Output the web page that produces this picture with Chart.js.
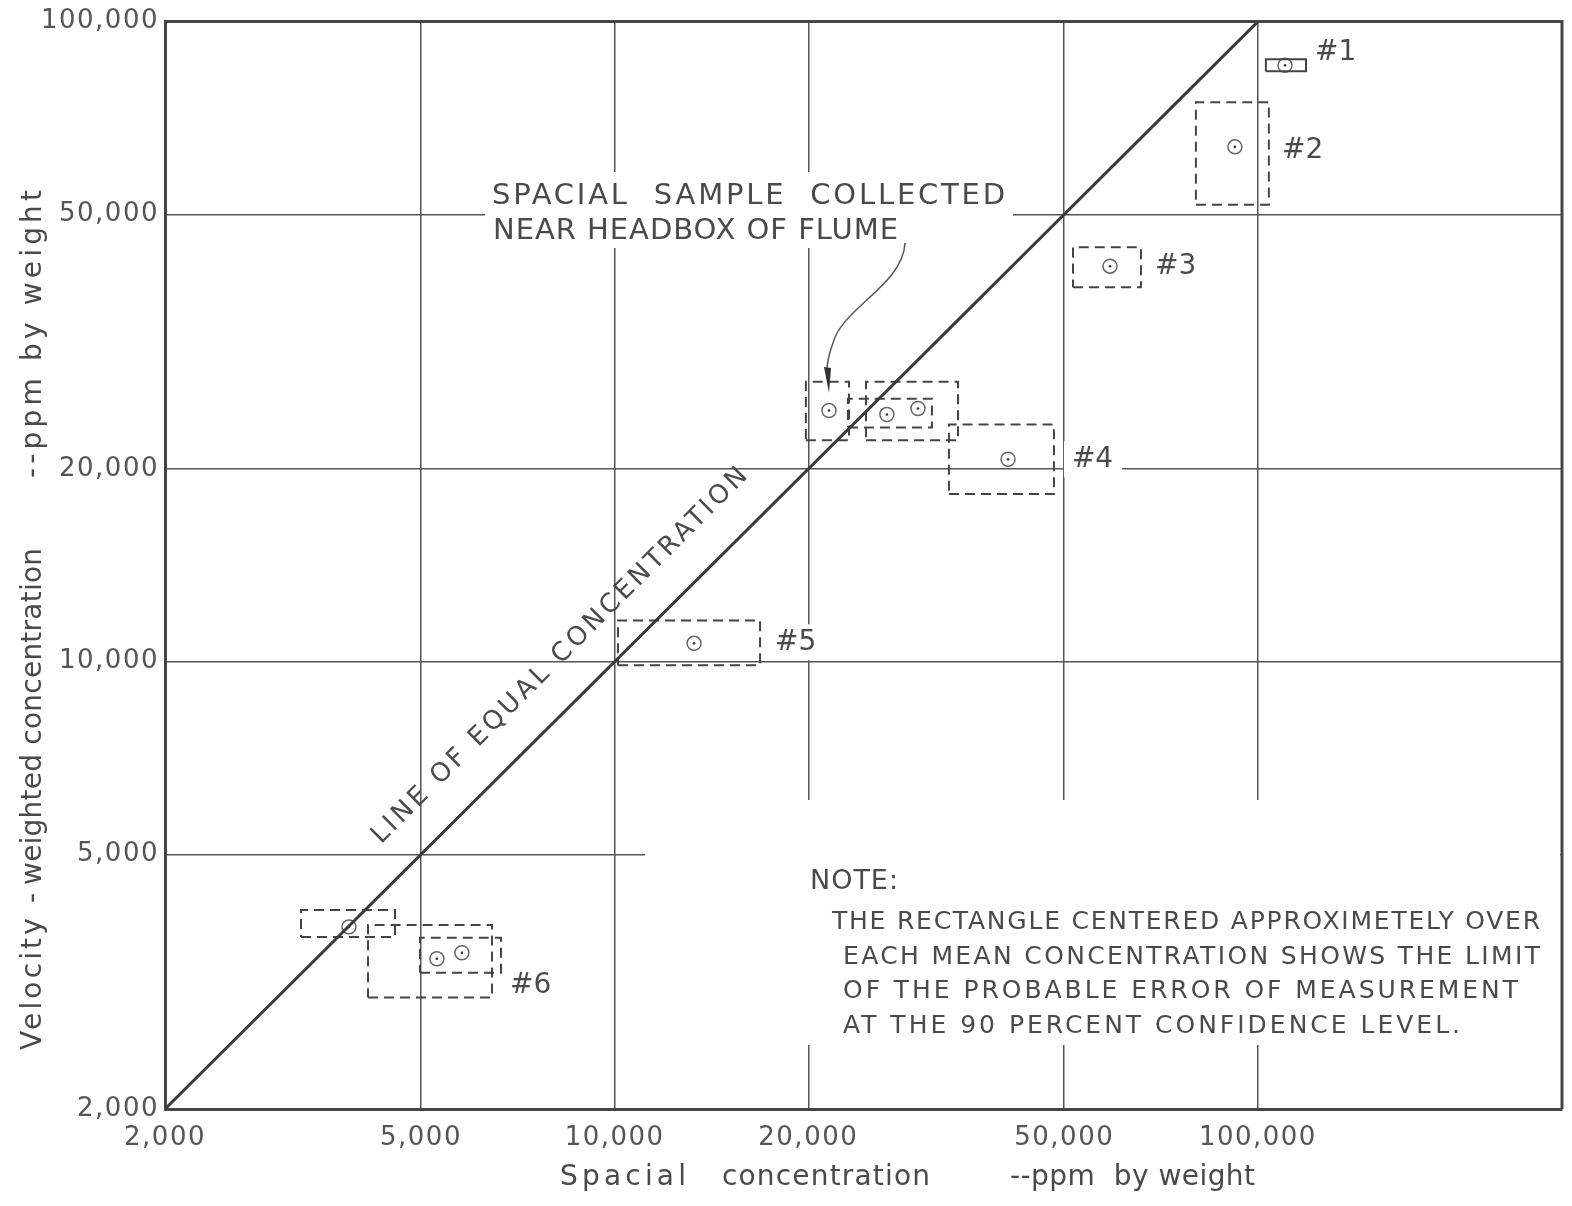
<!DOCTYPE html>
<html>
<head>
<meta charset="utf-8">
<script src="https://cdn.jsdelivr.net/npm/chart.js@4.4.1/dist/chart.umd.min.js"></script>
<style>
  html, body { margin: 0; padding: 0; background: #fff; }
  #wrap { width: 1572px; height: 1206px; }
</style>
</head>
<body>
<div id="wrap"><canvas id="chart" width="1572" height="1206"></canvas></div>
<script>
// axis ticks, ppm by weight (both axes log)
const tickValues = [2000, 5000, 10000, 20000, 50000, 100000];
const xMin = 2000, xMax = 297000;
const yMin = 2000, yMax = 100000;

// line of equal concentration
const equalLine = [2000, 100000];

// mean concentrations (spacial x, velocity-weighted y)
const meanX = [110200, 92100, 58900, 21540, 26500, 29620, 40890, 13290, 3864, 5293, 5789];
const meanY = [85450, 63720, 41480, 24680, 24330, 24860, 20710, 10680, 3851, 3434, 3509];

// probable error rectangles, 90 percent confidence
const boxXLow  = [102900, 80100, 51590, 19830, 24590, 23050, 33090, 10120, 3254, 4136, 4983];
const boxXHigh = [118800, 104000, 65800, 23140, 34180, 31140, 48190, 16830, 4556, 6448, 6658];
const boxYLow  = [83630, 51760, 38460, 22170, 22170, 23220, 18270, 9870, 3715, 2987, 3266];
const boxYHigh = [87300, 74830, 44390, 27370, 27370, 25750, 23470, 11600, 4092, 3878, 3702];

// run numbers and their anchor (data units)
const runLabels = ['#1', '#2', '#3', '#4', '#5', '#6'];
const runLabelX = [122700, 109000, 69180, 51390, 17750, 6877];
const runLabelY = [89500, 62810, 41330, 20710, 10720, 3118];

const ink = '#3a3a3a';
const textInk = '#4a4a4a';
const fontName = 'DejaVu Sans';

function fmt(v) {
  return Number(v).toLocaleString('en-US');
}

// draw text left-aligned, spread to a given width
function fitText(ctx, text, x, y, width, size) {
  ctx.font = size + 'px "' + fontName + '"';
  ctx.letterSpacing = '0px';
  const w = ctx.measureText(text).width;
  const gap = text.length > 1 ? (width - w) / (text.length - 1) : 0;
  ctx.letterSpacing = gap + 'px';
  ctx.textAlign = 'left';
  ctx.fillText(text, x, y);
  ctx.letterSpacing = '0px';
}

const datasets = [];

datasets.push({
  data: equalLine.map(v => ({ x: v, y: v })),
  showLine: true,
  borderColor: ink,
  borderWidth: 3,
  pointRadius: 0
});

boxXLow.forEach((x0, i) => {
  const x1 = boxXHigh[i], y0 = boxYLow[i], y1 = boxYHigh[i];
  datasets.push({
    data: [{ x: x0, y: y0 }, { x: x1, y: y0 }, { x: x1, y: y1 }, { x: x0, y: y1 }, { x: x0, y: y0 }],
    showLine: true,
    borderColor: '#444',
    borderWidth: 2,
    borderDash: i === 0 ? [] : [10, 6],
    pointRadius: 0
  });
});

const means = meanX.map((x, i) => ({ x: x, y: meanY[i] }));
datasets.push({
  data: means,
  showLine: false,
  pointRadius: 7,
  pointBorderWidth: 1.5,
  pointBorderColor: '#666',
  pointBackgroundColor: 'rgba(255,255,255,0)'
});
datasets.push({
  data: means,
  showLine: false,
  pointRadius: 1.3,
  pointBorderWidth: 0,
  pointBackgroundColor: '#333'
});

const annotations = {
  id: 'annotations',
  beforeDraw(chart) {
    chart.ctx.letterSpacing = '1.5px';
  },
  beforeDatasetsDraw(chart) {
    // blank areas behind the lettering, like the drafted original
    const ctx = chart.ctx;
    const a = chart.chartArea;
    ctx.save();
    ctx.fillStyle = '#fff';
    ctx.fillRect(645, 800, a.right - 645 - 2, 245);
    ctx.fillRect(485, 172, 528, 76);
    const xs = chart.scales.x, ys = chart.scales.y;
    runLabels.forEach((t, i) => {
      const px = xs.getPixelForValue(runLabelX[i]);
      const py = ys.getPixelForValue(runLabelY[i]);
      ctx.fillRect(px - 8, py - 18, 58, 36);
    });
    ctx.restore();
  },
  afterDatasetsDraw(chart) {
    const ctx = chart.ctx;
    const a = chart.chartArea;
    const xs = chart.scales.x, ys = chart.scales.y;
    ctx.save();

    // frame on top and right
    ctx.strokeStyle = '#444';
    ctx.lineWidth = 3;
    ctx.beginPath();
    ctx.moveTo(a.left, a.top);
    ctx.lineTo(a.right, a.top);
    ctx.lineTo(a.right, a.bottom);
    ctx.stroke();

    ctx.fillStyle = textInk;
    ctx.textBaseline = 'middle';

    // run numbers
    ctx.font = '28px "' + fontName + '"';
    ctx.letterSpacing = '0px';
    ctx.textAlign = 'left';
    runLabels.forEach((t, i) => {
      ctx.fillText(t, xs.getPixelForValue(runLabelX[i]), ys.getPixelForValue(runLabelY[i]));
    });

    // headbox note with arrow
    fitText(ctx, 'SPACIAL  SAMPLE  COLLECTED', 492, 196, 513, 29);
    fitText(ctx, 'NEAR HEADBOX OF FLUME', 493, 231, 405, 29);
    ctx.strokeStyle = '#555';
    ctx.lineWidth = 1.5;
    ctx.beginPath();
    ctx.moveTo(905, 243);
    ctx.bezierCurveTo(903, 285, 842, 308, 833, 343);
    ctx.bezierCurveTo(826, 362, 826, 372, 828, 380);
    ctx.stroke();
    ctx.fillStyle = '#333';
    ctx.beginPath();
    ctx.moveTo(829, 393);
    ctx.lineTo(824, 367);
    ctx.lineTo(831, 368);
    ctx.closePath();
    ctx.fill();
    ctx.fillStyle = textInk;

    // line label, along the diagonal
    ctx.save();
    ctx.translate(560, 656);
    ctx.rotate(-Math.PI / 4);
    fitText(ctx, 'LINE OF EQUAL CONCENTRATION', -260, 0, 520, 26);
    ctx.restore();

    // note block
    fitText(ctx, 'NOTE:', 810, 882, 88, 27);
    fitText(ctx, 'THE RECTANGLE CENTERED APPROXIMETELY OVER', 832, 922, 708, 25);
    fitText(ctx, 'EACH MEAN CONCENTRATION SHOWS THE LIMIT', 843, 957, 697, 25);
    fitText(ctx, 'OF THE PROBABLE ERROR OF MEASUREMENT', 843, 991, 675, 25);
    fitText(ctx, 'AT THE 90 PERCENT CONFIDENCE LEVEL.', 843, 1026, 617, 25);

    // axis titles
    fitText(ctx, 'Spacial', 560, 1178, 126, 28);
    fitText(ctx, 'concentration', 722, 1178, 208, 28);
    fitText(ctx, '--ppm  by weight', 1010, 1178, 245, 28);

    ctx.save();
    ctx.translate(34, 1050);
    ctx.rotate(-Math.PI / 2);
    fitText(ctx, 'Velocity -', 0, 0, 157, 28);
    fitText(ctx, 'weighted concentration', 165, 0, 337, 28);
    fitText(ctx, '--ppm by weight', 572, 0, 288, 28);
    ctx.restore();

    ctx.restore();
  }
};

function logAxis(min, max, isX) {
  return {
    type: 'logarithmic',
    min: min,
    max: max,
    afterBuildTicks: s => { s.ticks = tickValues.map(v => ({ value: v })); },
    afterFit: s => { if (isX) s.height = 97; else s.width = 165; },
    ticks: {
      callback: v => fmt(v),
      color: '#555',
      font: { family: fontName, size: 26 },
      padding: isX ? 14 : 6,
      maxRotation: 0,
      autoSkip: false
    },
    grid: { color: '#555', lineWidth: 1.5, drawTicks: false },
    border: { color: '#444', width: 3 }
  };
}

new Chart(document.getElementById('chart'), {
  type: 'scatter',
  data: { datasets: datasets },
  options: {
    responsive: false,
    animation: false,
    layout: { padding: { top: 16, right: 10, left: 0, bottom: 0 } },
    plugins: { legend: { display: false }, tooltip: { enabled: false } },
    scales: {
      x: logAxis(xMin, xMax, true),
      y: logAxis(yMin, yMax, false)
    }
  },
  plugins: [annotations]
});
</script>
</body>
</html>
